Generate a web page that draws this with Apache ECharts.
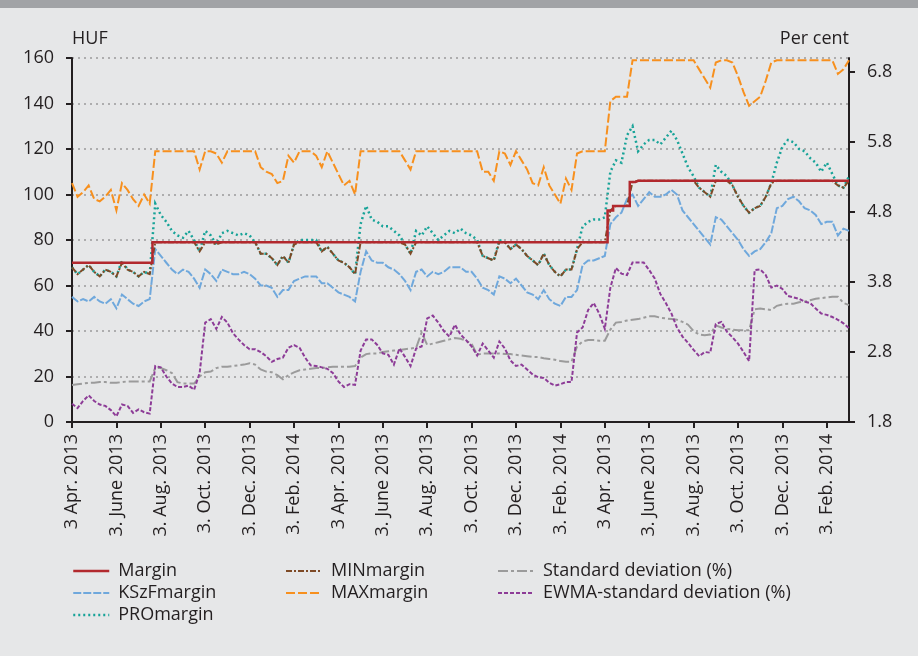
<!DOCTYPE html>
<html>
<head>
<meta charset="utf-8">
<script src="https://cdn.jsdelivr.net/npm/echarts@6/dist/echarts.min.js"></script>
<style>
  html, body { margin: 0; padding: 0; background: #E6E7E8; }
  #chart { position: absolute; left: 0; top: 0; width: 918px; height: 656px; }
  #topbar { position: absolute; left: 0; top: 0; width: 918px; height: 8px; background: #A1A3A6; }
</style>
</head>
<body>
<div id="chart"></div>
<div id="topbar"></div>
<script>
// Tick labels shown every 8th observation on the date axis
const tickLabels = [
  '3 Apr. 2013', '3. June 2013', '3. Aug. 2013', '3. Oct. 2013', '3. Dec. 2013', '3. Feb. 2014',
  '3 Apr. 2013', '3. June 2013', '3. Aug. 2013', '3. Oct. 2013', '3. Dec. 2013', '3. Feb. 2014',
  '3 Apr. 2013', '3. June 2013', '3. Aug. 2013', '3. Oct. 2013', '3. Dec. 2013', '3. Feb. 2014'
];

// HUF series
const margin = [
  70, 70, 70, 70, 70, 70, 70, 70, 70, 70,
  70, 70, 70, 70, 70, 79, 79, 79, 79, 79,
  79, 79, 79, 79, 79, 79, 79, 79, 79, 79,
  79, 79, 79, 79, 79, 79, 79, 79, 79, 79,
  79, 79, 79, 79, 79, 79, 79, 79, 79, 79,
  79, 79, 79, 79, 79, 79, 79, 79, 79, 79,
  79, 79, 79, 79, 79, 79, 79, 79, 79, 79,
  79, 79, 79, 79, 79, 79, 79, 79, 79, 79,
  79, 79, 79, 79, 79, 79, 79, 79, 79, 79,
  79, 79, 79, 79, 79, 79, 79, 93, 95, 95,
  95, 105.5, 106, 106, 106, 106, 106, 106, 106, 106,
  106, 106, 106, 106, 106, 106, 106, 106, 106, 106,
  106, 106, 106, 106, 106, 106, 106, 106, 106, 106,
  106, 106, 106, 106, 106, 106, 106, 106, 106, 106,
  106
];

const kszfMargin = [
  55, 53, 54, 53, 55, 53, 52, 54, 50, 56,
  54, 52, 51, 53, 54, 76, 73, 70, 67, 65,
  67, 66, 63, 59, 67, 65, 62, 67, 66, 65,
  65, 66, 65, 63, 60, 60, 59, 55, 58, 58,
  62, 63, 64, 64, 64, 61, 61, 59, 57, 56,
  55, 53, 66, 75, 71, 70, 70, 68, 67, 65,
  62, 58, 66, 67, 64, 66, 65, 66, 68, 68,
  68, 66, 66, 63, 59, 58, 56, 64, 63, 61,
  63, 60, 57, 56, 54, 58, 54, 52, 51, 55,
  55, 58, 69, 71, 71, 72, 73, 87, 90, 92,
  98, 100, 95, 98, 101, 99, 99, 100, 102, 100,
  93, 90, 87, 84, 81, 78, 90, 89, 86, 83,
  80, 76, 73, 75, 76, 79, 83, 94, 95, 98,
  99, 97, 94, 93, 91, 87, 88, 88, 82, 85,
  84
];

const proMargin = [
  68, 65, 67, 69, 66, 64, 67, 66, 64, 71,
  67, 66, 64, 66, 65, 96, 91, 88, 84, 82,
  81, 84, 80, 75, 84, 82, 78, 83, 84, 83,
  82, 83, 82, 79, 74, 74, 72, 69, 73, 70,
  78, 80, 80, 80, 80, 75, 77, 74, 71, 70,
  68, 65, 87, 95, 89, 88, 86, 86, 84, 82,
  78, 74, 84, 82, 86, 83, 80, 82, 84, 83,
  85, 83, 82, 80, 73, 72, 71, 80, 79, 76,
  78, 76, 73, 71, 69, 74, 69, 66, 64, 67,
  67, 76, 86, 88, 89, 89, 90, 110, 115, 114,
  126, 130, 119, 122, 124, 124, 122, 125, 128, 124,
  118, 112, 108, 103, 101, 99, 113, 110, 108, 104,
  99, 95, 92, 94, 95, 99, 105, 114, 121, 124,
  123, 120, 119, 116, 114, 110, 114, 109, 104, 103,
  108
];

const minMargin = [
  68, 65, 67, 69, 66, 64, 67, 66, 64, 70,
  67, 66, 64, 66, 65, 79, 79, 79, 79, 79,
  79, 79, 79, 75, 79, 79, 78, 79, 79, 79,
  79, 79, 79, 79, 74, 74, 72, 69, 73, 70,
  78, 79, 79, 79, 79, 75, 77, 74, 71, 70,
  68, 65, 79, 79, 79, 79, 79, 79, 79, 79,
  78, 74, 79, 79, 79, 79, 79, 79, 79, 79,
  79, 79, 79, 79, 73, 72, 71, 79, 79, 76,
  78, 76, 73, 71, 69, 74, 69, 66, 64, 67,
  67, 76, 79, 79, 79, 79, 79, 93, 95, 95,
  95, 105.5, 106, 106, 106, 106, 106, 106, 106, 106,
  106, 106, 106, 103, 101, 99, 106, 106, 106, 104,
  99, 95, 92, 94, 95, 99, 105, 106, 106, 106,
  106, 106, 106, 106, 106, 106, 106, 106, 104, 103,
  106
];

const maxMargin = [
  105, 99, 101, 104, 98, 97, 99, 102, 93, 105,
  102, 98, 95, 100, 96, 119, 119, 119, 119, 119,
  119, 119, 119, 111, 119, 119, 118, 114, 119, 119,
  119, 119, 119, 119, 112, 110, 109, 105, 106, 117,
  114, 119, 119, 119, 117, 112, 119, 114, 109, 104,
  106, 100, 119, 119, 119, 119, 119, 119, 119, 119,
  115, 111, 119, 119, 119, 119, 119, 119, 119, 119,
  119, 119, 119, 119, 110, 110, 106, 119, 118, 113,
  119, 115, 111, 105, 104, 112, 104, 100, 96, 107,
  102, 118, 119, 119, 119, 119, 119, 141, 143, 143,
  143, 159, 159, 159, 159, 159, 159, 159, 159, 159,
  159, 159, 159, 155, 151, 147, 158, 159, 159, 158,
  152, 145, 139, 141, 143, 150, 158, 159, 159, 159,
  159, 159, 159, 159, 159, 159, 159, 159, 153, 155,
  159
];

// Per cent series
const stdDev = [
  2.33, 2.34, 2.35, 2.36, 2.36, 2.37, 2.37, 2.36, 2.36, 2.37,
  2.38, 2.38, 2.38, 2.38, 2.38, 2.57, 2.57, 2.54, 2.50, 2.37,
  2.35, 2.35, 2.35, 2.45, 2.51, 2.52, 2.57, 2.59, 2.59, 2.60,
  2.61, 2.62, 2.64, 2.62, 2.55, 2.52, 2.51, 2.47, 2.41, 2.47,
  2.51, 2.54, 2.55, 2.56, 2.57, 2.57, 2.58, 2.59, 2.59, 2.59,
  2.59, 2.60, 2.72, 2.77, 2.78, 2.78, 2.80, 2.81, 2.82, 2.83,
  2.84, 2.85, 2.86, 3.08, 2.90, 2.92, 2.94, 2.96, 2.98, 3.00,
  2.99, 2.96, 2.92, 2.76, 2.78, 2.78, 2.78, 2.78, 2.77, 2.77,
  2.76, 2.75, 2.74, 2.73, 2.73, 2.71, 2.70, 2.69, 2.67, 2.66,
  2.66, 2.88, 2.95, 2.97, 2.97, 2.96, 2.96, 3.12, 3.22, 3.23,
  3.25, 3.26, 3.27, 3.29, 3.31, 3.31, 3.29, 3.28, 3.27, 3.26,
  3.23, 3.19, 3.10, 3.05, 3.04, 3.05, 3.18, 3.15, 3.13, 3.12,
  3.11, 3.11, 3.11, 3.41, 3.42, 3.41, 3.40, 3.46, 3.48, 3.49,
  3.49, 3.51, 3.52, 3.54, 3.56, 3.57, 3.58, 3.59, 3.59, 3.50,
  3.47
];

const ewmaStdDev = [
  2.06, 2.00, 2.10, 2.18, 2.10, 2.05, 2.03, 1.97, 1.88, 2.05,
  2.03, 1.93, 1.98, 1.94, 1.92, 2.60, 2.58, 2.45, 2.35, 2.30,
  2.30, 2.32, 2.26, 2.50, 3.22, 3.27, 3.13, 3.30, 3.22, 3.07,
  2.98, 2.90, 2.84, 2.84, 2.80, 2.74, 2.66, 2.70, 2.72, 2.86,
  2.90, 2.86, 2.72, 2.61, 2.60, 2.58, 2.56, 2.50, 2.38, 2.30,
  2.34, 2.33, 2.82, 2.98, 2.98, 2.90, 2.78, 2.76, 2.62, 2.85,
  2.73, 2.60, 2.85, 2.88, 3.28, 3.32, 3.22, 3.10, 3.02, 3.19,
  3.05, 2.97, 2.88, 2.75, 2.92, 2.82, 2.72, 2.95, 2.85, 2.68,
  2.60, 2.62, 2.55, 2.48, 2.44, 2.43, 2.36, 2.32, 2.34, 2.37,
  2.37, 3.08, 3.15, 3.40, 3.50, 3.35, 3.13, 3.72, 4.00, 3.92,
  3.90, 4.08, 4.08, 4.08, 3.97, 3.85, 3.63, 3.50, 3.35, 3.15,
  3.02, 2.93, 2.83, 2.74, 2.80, 2.79, 3.20, 3.23, 3.09, 3.01,
  2.92, 2.80, 2.67, 3.97, 3.98, 3.90, 3.72, 3.75, 3.70, 3.60,
  3.58, 3.56, 3.52, 3.50, 3.42, 3.35, 3.33, 3.30, 3.26, 3.21,
  3.14
];

const rightTicks = [1.8, 2.8, 3.8, 4.8, 5.8, 6.8];

const FONT = '"Open Sans", sans-serif';
const INK = '#231F20';
const categories = margin.map((_, i) => String(i));

function line(name, data, color, width, dash, yAxisIndex, extra) {
  return Object.assign({
    name: name,
    type: 'line',
    data: data,
    yAxisIndex: yAxisIndex,
    symbol: 'none',
    showSymbol: false,
    smooth: false,
    lineStyle: { color: color, width: width, type: dash, cap: 'butt', join: 'miter' },
    itemStyle: { color: color },
    emphasis: { disabled: true }
  }, extra || {});
}

// Legend keys show only the line sample, no marker
const legendBase = {
  orient: 'vertical',
  top: 562,
  itemWidth: 36,
  itemHeight: 14,
  itemGap: 4,
  padding: 0,
  selectedMode: false,
  itemStyle: { opacity: 0, color: 'rgba(0,0,0,0)', borderWidth: 0 },
  lineStyle: { width: 'inherit', opacity: 1 },
  textStyle: { fontFamily: FONT, fontSize: 18, color: INK, padding: [0, 0, 0, 4] }
};

const option = {
  backgroundColor: '#E6E7E8',
  animation: false,
  textStyle: { fontFamily: FONT },
  grid: { left: 72, right: 69, top: 58, bottom: 234, containLabel: false },
  legend: [
    Object.assign({}, legendBase, { left: 72, data: ['Margin', 'KSzFmargin', 'PROmargin'] }),
    Object.assign({}, legendBase, { left: 285, data: ['MINmargin', 'MAXmargin'] }),
    Object.assign({}, legendBase, { left: 497, data: ['Standard deviation (%)', 'EWMA-standard deviation (%)'] })
  ],
  xAxis: {
    type: 'category',
    data: categories,
    boundaryGap: false,
    axisLine: { lineStyle: { color: INK, width: 2 } },
    axisTick: { interval: 7, length: 6, lineStyle: { color: INK, width: 2 } },
    axisLabel: {
      interval: 7,
      rotate: 90,
      margin: 12,
      fontFamily: FONT,
      fontSize: 18,
      color: INK,
      formatter: function (value, index) {
        return index % 8 === 0 && tickLabels[index / 8] ? tickLabels[index / 8] : '';
      }
    },
    splitLine: { show: false }
  },
  yAxis: [
    {
      type: 'value',
      position: 'left',
      min: 0,
      max: 160,
      interval: 20,
      name: 'HUF',
      nameLocation: 'end',
      nameGap: 10,
      nameTextStyle: { fontFamily: FONT, fontSize: 18, color: INK, align: 'left' },
      axisLine: { show: true, lineStyle: { color: INK, width: 2 } },
      axisTick: { show: true, length: 6, lineStyle: { color: INK, width: 2 } },
      axisLabel: { margin: 18, fontFamily: FONT, fontSize: 18, color: INK },
      splitLine: { show: true, lineStyle: { color: '#9A9A9A', width: 1.5, type: [2, 4] } }
    },
    {
      type: 'value',
      position: 'right',
      min: 1.8,
      max: 7.0,
      name: 'Per cent',
      nameLocation: 'end',
      nameGap: 10,
      nameTextStyle: { fontFamily: FONT, fontSize: 18, color: INK, align: 'right' },
      axisLine: { show: true, lineStyle: { color: INK, width: 2 } },
      axisTick: { show: true, length: 6, customValues: rightTicks, lineStyle: { color: INK, width: 2 } },
      axisLabel: {
        margin: 18, fontFamily: FONT, fontSize: 18, color: INK,
        customValues: rightTicks,
        formatter: function (v) { return Number(v).toFixed(1); }
      },
      splitLine: { show: false }
    }
  ],
  series: [
    line('Standard deviation (%)', stdDev, '#9B9B9B', 2, [10, 3, 3, 3], 1),
    line('EWMA-standard deviation (%)', ewmaStdDev, '#8D3C97', 2, [4, 2], 1),
    line('KSzFmargin', kszfMargin, '#6FA8DC', 2, [8, 2], 0),
    line('MAXmargin', maxMargin, '#F7901E', 2, [9, 3], 0),
    line('PROmargin', proMargin, '#17A398', 2.5, [2, 3], 0),
    line('MINmargin', minMargin, '#7E4A26', 2, [6, 2, 2, 2], 0),
    line('Margin', margin, '#B2292E', 2.5, 'solid', 0, { step: 'middle' })
  ]
};

const chart = echarts.init(document.getElementById('chart'), null, { renderer: 'canvas' });
chart.setOption(option);
</script>
</body>
</html>
